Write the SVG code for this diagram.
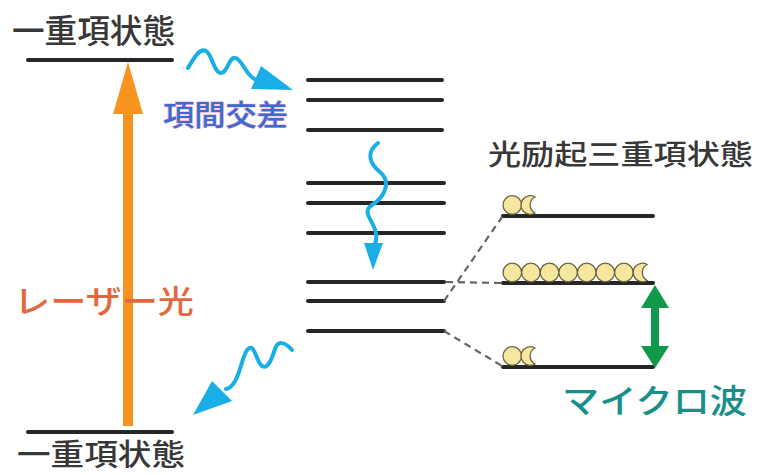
<svg xmlns="http://www.w3.org/2000/svg" width="758" height="475" viewBox="0 0 758 475">
<style>
text{font-family:"Noto Sans CJK JP","Noto Sans CJK SC",sans-serif;font-weight:500;}
.lvl{stroke:#262626;stroke-width:4;stroke-linecap:round;}
.dash{stroke:#666;stroke-width:2.2;stroke-dasharray:7,5;fill:none;}
.wave{fill:none;stroke:#19aee6;stroke-width:4;stroke-linecap:round;}
.head{fill:#19aee6;}
.ball{fill:#f6e7a0;stroke:#6e6340;stroke-width:1.3;}
.dark{fill:#383838;}
</style>
<rect width="758" height="475" fill="#ffffff"/>

<g id="singlet-top">
<text class="dark" x="12" y="43" font-size="33" textLength="163" lengthAdjust="spacingAndGlyphs">一重項状態</text>
<line class="lvl" x1="28" y1="60" x2="172" y2="60"/>
</g>

<g id="singlet-bottom">
<line class="lvl" x1="28" y1="432" x2="172" y2="432"/>
<text class="dark" x="17" y="465" font-size="30" textLength="168" lengthAdjust="spacingAndGlyphs">一重項状態</text>
</g>

<g id="laser">
<rect x="123" y="108" width="10" height="318" fill="#f7931e"/>
<polygon points="113,114 143,114 128,62" fill="#f7931e"/>
<text x="14" y="313" font-size="32" fill="#e2693e" textLength="180" lengthAdjust="spacingAndGlyphs">レーザー光</text>
</g>

<g id="triplet-levels">
<line class="lvl" x1="308" y1="80" x2="442" y2="80"/>
<line class="lvl" x1="308" y1="100" x2="442" y2="100"/>
<line class="lvl" x1="308" y1="130" x2="442" y2="130"/>
<line class="lvl" x1="308" y1="183" x2="444" y2="183"/>
<line class="lvl" x1="308" y1="203" x2="444" y2="203"/>
<line class="lvl" x1="308" y1="233" x2="444" y2="233"/>
<line class="lvl" x1="308" y1="282" x2="444" y2="282"/>
<line class="lvl" x1="308" y1="301" x2="444" y2="301"/>
<line class="lvl" x1="308" y1="331" x2="444" y2="331"/>
</g>

<g id="isc-label">
<text x="163" y="126" font-size="29" fill="#3b6ccf" stroke="#f3b6cf" stroke-width="1.2" paint-order="stroke" textLength="125" lengthAdjust="spacingAndGlyphs">項間交差</text>
</g>

<g id="photo-triplet">
<text class="dark" x="488" y="165" font-size="28" textLength="265" lengthAdjust="spacingAndGlyphs">光励起三重項状態</text>
<line class="lvl" x1="503" y1="216" x2="653" y2="216"/>
<line class="lvl" x1="503" y1="283" x2="653" y2="283"/>
<line class="lvl" x1="503" y1="367" x2="653" y2="367"/>
</g>

<g id="population">
<circle class="ball" cx="512.3" cy="205" r="9.3"/>
<path class="ball" d="M535,197 A9.3,9.3 0 1 0 535,213 A9,9 0 0 1 535,197 Z"/>
<circle class="ball" cx="512.3" cy="272.5" r="9.3"/>
<circle class="ball" cx="530.9" cy="272.5" r="9.3"/>
<circle class="ball" cx="549.5" cy="272.5" r="9.3"/>
<circle class="ball" cx="568.1" cy="272.5" r="9.3"/>
<circle class="ball" cx="586.7" cy="272.5" r="9.3"/>
<circle class="ball" cx="605.3" cy="272.5" r="9.3"/>
<circle class="ball" cx="623.9" cy="272.5" r="9.3"/>
<path class="ball" d="M647.2,264.5 A9.3,9.3 0 1 0 647.2,280.5 A9,9 0 0 1 647.2,264.5 Z"/>
<circle class="ball" cx="512.3" cy="356" r="9.3"/>
<path class="ball" d="M535,348 A9.3,9.3 0 1 0 535,364 A9,9 0 0 1 535,348 Z"/>
</g>

<g id="microwave">
<rect x="651" y="304" width="8" height="46" fill="#11994b"/>
<polygon points="641,308 669,308 655,285" fill="#11994b"/>
<polygon points="641,346 669,346 655,368" fill="#11994b"/>
<text x="562" y="413" font-size="33" fill="#17908a" textLength="185" lengthAdjust="spacingAndGlyphs">マイクロ波</text>
</g>

<g id="connectors">
<line class="dash" x1="444" y1="301" x2="502" y2="217"/>
<line class="dash" x1="446" y1="282" x2="502" y2="283"/>
<line class="dash" x1="444" y1="331" x2="502" y2="366"/>
<path class="wave" d="M188,68 C195,56 200,48 206,51 S214,73 221,73 S229,55 236,58 S246,76 256,80"/>
<polygon class="head" points="261,66 251,89 293,90"/>
<path class="wave" d="M378,143 C366,152 369,163 380,172 S386,196 372,205 S382,225 375,244"/>
<polygon class="head" points="364,243 383,243 373,270"/>
<path class="wave" d="M292,350 C285,342 278,340 275,349 S268,370 262,366 S255,343 248,349 S240,386 226,389"/>
<polygon class="head" points="212,381 232,401 193,415"/>
</g>
</svg>
